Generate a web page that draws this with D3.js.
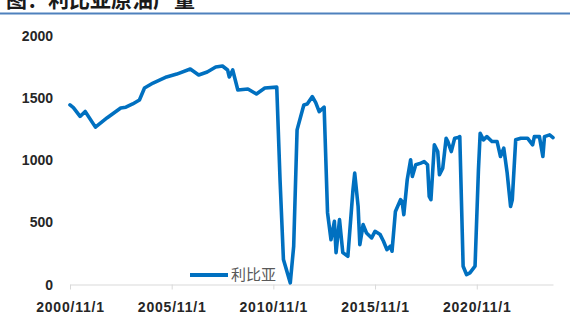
<!DOCTYPE html>
<html>
<head>
<meta charset="utf-8">
<script src="https://cdn.jsdelivr.net/npm/d3@7"></script>
<style>
  body { margin: 0; background: #fff; }
  svg { display: block; }
</style>
</head>
<body>
<svg id="chart" width="570" height="320"></svg>
<script>
// monthly points (thousand barrels/day)
var months = [
  "2000-11", "2001-01", "2001-05", "2001-08", "2002-02", "2002-09", "2003-05", "2003-08",
  "2003-12", "2004-04", "2004-07", "2004-12", "2005-08", "2006-02", "2006-10", "2007-03",
  "2007-08", "2008-01", "2008-05", "2008-08", "2008-09", "2008-11", "2009-02", "2009-08",
  "2010-01", "2010-06", "2011-01", "2011-03", "2011-05", "2011-09", "2011-11", "2012-01",
  "2012-05", "2012-07", "2012-10", "2012-12", "2013-02", "2013-05", "2013-07", "2013-09",
  "2013-11", "2013-12", "2014-02", "2014-04", "2014-07", "2014-10", "2014-11", "2015-01",
  "2015-02", "2015-04", "2015-06", "2015-09", "2015-11", "2016-02", "2016-04", "2016-06",
  "2016-08", "2016-09", "2016-11", "2017-02", "2017-03", "2017-04", "2017-06", "2017-08",
  "2017-09", "2017-11", "2018-02", "2018-04", "2018-06", "2018-07", "2018-08", "2018-10",
  "2018-12", "2019-01", "2019-03", "2019-05", "2019-06", "2019-08", "2019-10", "2019-12",
  "2020-01", "2020-03", "2020-05", "2020-07", "2020-10", "2020-12", "2021-01", "2021-03",
  "2021-05", "2021-08", "2021-11", "2022-01", "2022-03", "2022-05", "2022-07", "2022-08",
  "2022-10", "2023-01", "2023-05", "2023-08", "2023-09", "2023-12", "2024-02", "2024-03",
  "2024-06", "2024-08"
];
var output = [
  1442, 1420, 1350, 1390, 1264, 1340, 1418, 1424,
  1450, 1482, 1578, 1618, 1667, 1690, 1731, 1683,
  1707, 1747, 1755, 1723, 1667, 1723, 1562, 1570,
  1530, 1578, 1585, 841, 200, 13, 307, 1242,
  1442, 1450, 1509, 1461, 1389, 1424, 577, 360,
  507, 256, 521, 256, 227, 761, 895, 627,
  320, 481, 414, 374, 427, 401, 347, 280,
  307, 267, 587, 681, 667, 561, 841, 1002,
  868, 962, 975, 988, 962, 708, 681, 1122,
  1068, 881, 935, 1175, 1148, 1068, 1175, 1180,
  1188, 147, 80, 94, 147, 921, 1215, 1162,
  1188, 1148, 1148, 1028, 1095, 895, 627, 681,
  1162, 1175, 1175, 1122, 1188, 1188, 1028, 1188,
  1202, 1180
];
var yTicks = [0, 500, 1000, 1500, 2000];
var xTicks = ["2000-11", "2005-11", "2010-11", "2015-11", "2020-11"];
var seriesName = "利比亚";
var title = "图：利比亚原油产量";

var parseMonth = d3.timeParse("%Y-%m");
var fmtTick = d3.timeFormat("%Y/%-m/%-d");
var data = months.map(function (m, i) {
  return {date: parseMonth(m), value: output[i]};
});

var svg = d3.select("#chart");
var blue = "#0070c0";

// title, cut off at the top like the source screenshot
svg.append("text")
  .attr("x", 6)
  .attr("y", 7)
  .attr("font-family", "Noto Sans CJK SC")
  .attr("font-weight", "bold")
  .attr("font-size", 21)
  .attr("fill", "#1a1a1a")
  .text(title);
svg.append("line")
  .attr("x1", 0).attr("x2", 570)
  .attr("y1", 13.5).attr("y2", 13.5)
  .attr("stroke", "#4f81bd")
  .attr("stroke-width", 2);

var x = d3.scaleTime()
  .domain([parseMonth("2000-11"), parseMonth("2024-08")])
  .range([70, 553]);
var y = d3.scaleLinear()
  .domain([0, 2000])
  .range([284.5, 35.5]);

// y labels, no axis line
svg.append("g")
  .selectAll("text")
  .data(yTicks)
  .join("text")
  .attr("x", 53)
  .attr("y", function (d) { return y(d); })
  .attr("dy", "0.36em")
  .attr("text-anchor", "end")
  .attr("font-family", "Liberation Sans")
  .attr("font-weight", "bold")
  .attr("font-size", 14)
  .attr("fill", "#262626")
  .text(function (d) { return d; });

// x axis
var xAxis = svg.append("g")
  .attr("transform", "translate(0,284.5)")
  .call(d3.axisBottom(x)
    .tickValues(xTicks.map(parseMonth))
    .tickSize(5)
    .tickSizeOuter(0)
    .tickPadding(13)
    .tickFormat(fmtTick));
xAxis.select(".domain").attr("stroke", "#d9d9d9");
xAxis.selectAll(".tick line").attr("stroke", "#d9d9d9");
xAxis.selectAll(".tick text")
  .attr("font-family", "Liberation Sans")
  .attr("font-weight", "bold")
  .attr("font-size", 14)
  .attr("letter-spacing", 0.8)
  .attr("fill", "#262626");

var line = d3.line()
  .x(function (d) { return x(d.date); })
  .y(function (d) { return y(d.value); })
  .curve(d3.curveLinear);

svg.append("path")
  .datum(data)
  .attr("d", line)
  .attr("fill", "none")
  .attr("stroke", blue)
  .attr("stroke-width", 3.6)
  .attr("stroke-linejoin", "round")
  .attr("stroke-linecap", "round");

// legend
var legend = svg.append("g").attr("transform", "translate(190,275)");
legend.append("line")
  .attr("x1", 0).attr("x2", 38)
  .attr("stroke", blue)
  .attr("stroke-width", 4);
legend.append("text")
  .attr("x", 41)
  .attr("dy", "0.36em")
  .attr("font-family", "Noto Sans CJK SC")
  .attr("font-size", 15)
  .attr("fill", "#595959")
  .text(seriesName);
</script>
</body>
</html>
